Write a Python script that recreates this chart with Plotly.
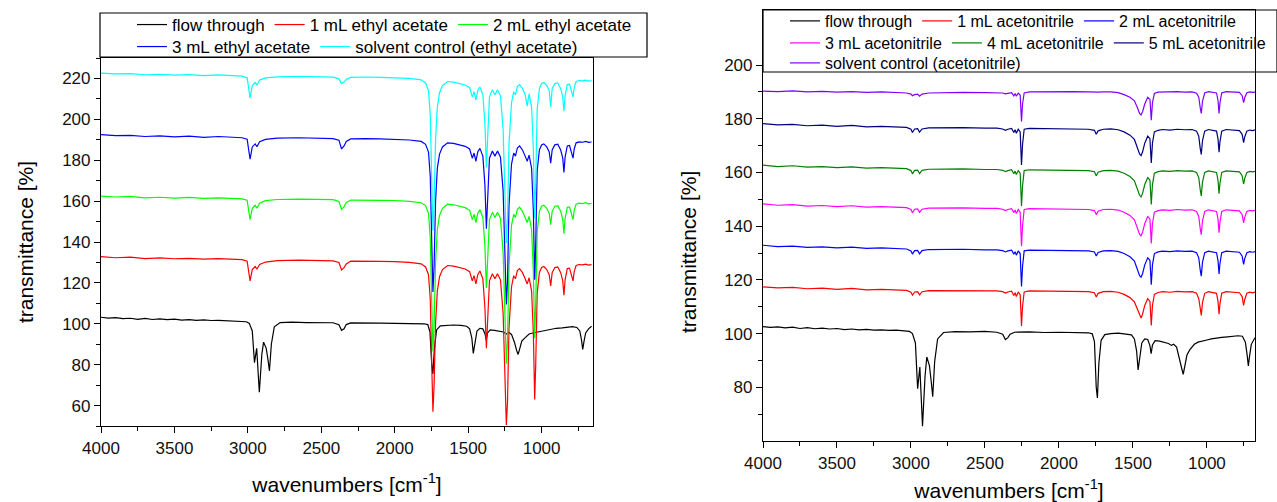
import plotly.graph_objects as go

W, H = 1277, 502

# ---------------- left panel: ethyl acetate elution ----------------
FT_WN = [4000, 3950, 3900, 3850, 3800, 3750, 3700, 3650, 3600, 3550, 3500, 3450, 3400, 3350, 3300, 3250,
         3200, 3150, 3100, 3050, 3010, 2990, 2970, 2955, 2940, 2922, 2905, 2893, 2875, 2862, 2853, 2840,
         2820, 2780, 2700, 2600, 2500, 2420, 2380, 2362, 2345, 2330, 2300, 2200, 2100, 2000, 1900, 1800,
         1775, 1760, 1748, 1740, 1730, 1715, 1690, 1650, 1600, 1550, 1510, 1490, 1475, 1465, 1455, 1440,
         1420, 1400, 1385, 1377, 1368, 1350, 1320, 1290, 1260, 1240, 1225, 1205, 1185, 1170, 1160, 1150,
         1135, 1115, 1100, 1085, 1060, 1030, 1000, 970, 940, 900, 860, 820, 790, 760, 740, 728, 720, 712,
         700, 680, 660]

FT_LEFT = [103.2, 102.8, 103.0, 102.5, 102.7, 102.2, 102.6, 102.1, 102.4, 102.0, 102.3, 101.8, 102.0, 101.7,
           101.9, 101.6, 101.7, 101.5, 101.6, 101.3, 101.0, 100.2, 96.5, 81.0, 88.0, 66.5, 85.0, 91.0, 88.0,
           82.0, 77.0, 90.0, 98.5, 100.6, 100.8, 100.6, 100.7, 100.5, 99.5, 96.8, 97.5, 99.6, 100.4, 100.5,
           100.3, 100.2, 100.1, 100.0, 99.6, 96.0, 80.0, 75.5, 88.0, 97.0, 99.0, 99.3, 99.4, 99.2, 98.8, 97.5,
           93.0, 85.5, 90.0, 96.5, 97.8, 97.5, 95.0, 92.0, 95.5, 97.0, 96.8, 96.5, 96.0, 95.0, 95.8, 94.8,
           91.0, 87.0, 85.0, 87.5, 91.5, 93.0, 94.0, 95.0, 95.5, 96.0, 96.5, 97.0, 97.5, 97.8, 98.0, 98.5,
           98.6, 98.2, 96.5, 92.0, 87.5, 91.0, 95.5, 97.5, 98.8]

EA_WN = [4000, 3900, 3800, 3700, 3600, 3500, 3400, 3300, 3200, 3100, 3040, 3005, 2985, 2970, 2950, 2938,
         2920, 2880, 2800, 2650, 2500, 2420, 2380, 2362, 2345, 2330, 2300, 2200, 2100, 2000, 1900, 1820,
         1790, 1770, 1758, 1748, 1740, 1732, 1722, 1710, 1695, 1675, 1640, 1600, 1560, 1520, 1490, 1472,
         1460, 1447, 1435, 1420, 1400, 1386, 1376, 1368, 1355, 1335, 1318, 1300, 1280, 1262, 1250, 1240,
         1232, 1222, 1205, 1190, 1178, 1165, 1150, 1130, 1112, 1098, 1085, 1068, 1056, 1047, 1040, 1030,
         1015, 1000, 985, 965, 948, 938, 928, 910, 890, 870, 856, 848, 840, 825, 810, 795, 786, 778, 765,
         745, 720, 700, 680, 660]

EA_1ML = [132.8, 132.3, 132.6, 131.9, 132.2, 131.8, 132.0, 131.6, 131.9, 131.5, 131.4, 130.6, 121.0, 126.5,
          128.0, 126.8, 129.0, 130.2, 130.9, 131.1, 131.0, 130.8, 130.0, 126.3, 127.5, 129.3, 130.6, 130.7,
          130.5, 130.4, 130.0, 129.3, 127.8, 124.0, 112.0, 80.0, 57.0, 70.0, 100.0, 116.0, 123.0, 126.5,
          128.5, 128.2, 127.6, 126.8, 125.5, 121.0, 123.5, 119.5, 124.0, 125.8, 122.0, 108.0, 88.0, 100.0,
          121.0, 124.5, 122.0, 124.5, 121.5, 105.0, 70.0, 50.5, 62.0, 98.0, 118.0, 123.5, 122.0, 126.0,
          127.0, 125.0, 122.0, 119.5, 122.5, 116.0, 95.0, 63.0, 80.0, 115.0, 125.0, 127.5, 128.0, 126.5,
          124.0, 118.5, 125.0, 127.5, 127.8, 125.0, 121.0, 114.0, 121.5, 127.0, 127.2, 124.0, 121.0, 125.5,
          128.5, 129.0, 128.8, 129.2, 128.7, 128.9]

EA_2ML = [162.4, 162.0, 162.3, 161.6, 161.9, 161.5, 161.8, 161.3, 161.6, 161.2, 161.1, 160.4, 151.0, 156.5,
          158.0, 156.5, 159.0, 160.2, 160.8, 161.0, 160.9, 160.7, 159.8, 156.0, 157.3, 159.2, 160.5, 160.6,
          160.4, 160.3, 159.9, 159.2, 157.8, 154.0, 142.0, 110.0, 86.5, 99.0, 130.0, 146.0, 153.0, 156.5,
          158.5, 158.2, 157.6, 156.8, 155.5, 151.0, 153.5, 149.5, 154.0, 155.8, 152.0, 138.0, 117.5, 130.0,
          151.0, 154.5, 152.0, 154.5, 151.5, 135.0, 100.0, 80.5, 92.0, 128.0, 148.0, 153.5, 152.0, 156.0,
          157.0, 155.0, 152.0, 149.5, 152.5, 146.0, 125.0, 93.0, 110.0, 145.0, 155.0, 157.5, 158.0, 156.5,
          154.0, 148.5, 155.0, 157.5, 157.8, 155.0, 151.0, 144.0, 151.5, 157.0, 157.2, 154.0, 151.0, 155.5,
          158.5, 159.0, 158.8, 159.2, 158.7, 158.9]

EA_3ML = [192.5, 192.0, 192.2, 191.6, 191.9, 191.4, 191.8, 191.2, 191.6, 191.1, 191.0, 190.3, 180.5, 186.5,
          188.0, 186.6, 189.0, 190.2, 190.8, 191.0, 190.8, 190.6, 189.8, 185.5, 187.0, 189.2, 190.4, 190.6,
          190.4, 190.3, 189.9, 189.2, 187.8, 184.0, 172.0, 140.0, 115.5, 128.0, 160.0, 176.0, 183.0, 186.5,
          188.5, 188.2, 187.6, 186.8, 185.5, 181.0, 183.5, 179.5, 184.0, 185.8, 182.0, 168.0, 146.5, 160.0,
          181.0, 184.5, 182.0, 184.5, 181.5, 165.0, 130.0, 109.5, 121.0, 158.0, 178.0, 183.5, 182.0, 186.0,
          187.0, 185.0, 182.0, 179.5, 182.5, 176.0, 155.0, 121.5, 139.0, 175.0, 185.0, 187.5, 188.0, 186.5,
          184.0, 178.5, 185.0, 187.5, 187.8, 185.0, 181.0, 174.0, 181.5, 187.0, 187.2, 184.0, 181.0, 185.5,
          188.5, 189.0, 188.8, 189.2, 188.7, 188.9]

EA_SOLVENT = [222.6, 222.2, 222.4, 221.8, 222.0, 221.6, 221.9, 221.4, 221.7, 221.3, 221.1, 220.3, 210.5, 216.5,
              218.0, 216.8, 219.2, 220.3, 220.8, 221.0, 220.8, 220.6, 219.8, 217.5, 218.2, 219.5, 220.5, 220.7,
              220.5, 220.4, 220.0, 219.3, 217.8, 214.0, 202.0, 170.0, 145.5, 158.0, 190.0, 206.0, 213.0, 216.5,
              218.5, 218.2, 217.6, 216.8, 215.5, 211.0, 213.5, 209.5, 214.0, 215.8, 212.0, 198.0, 176.5, 190.0,
              211.0, 214.5, 212.0, 214.5, 211.5, 195.0, 160.0, 139.5, 151.0, 188.0, 208.0, 213.5, 212.0, 216.0,
              217.0, 215.0, 212.0, 206.5, 212.5, 206.0, 185.0, 151.5, 169.0, 205.0, 215.0, 217.5, 218.0, 216.5,
              214.0, 206.0, 215.0, 217.5, 217.8, 215.0, 211.0, 204.0, 211.5, 217.0, 217.2, 214.0, 211.0, 215.5,
              218.5, 219.0, 218.8, 219.2, 218.7, 218.9]

# ---------------- right panel: acetonitrile elution ----------------
FT_RIGHT = [102.6, 102.3, 102.5, 102.1, 102.4, 101.9, 102.2, 101.8, 102.0, 101.7, 101.9, 101.5, 101.7, 101.4,
            101.6, 101.3, 101.4, 101.2, 101.3, 101.0, 100.8, 100.0, 96.5, 79.5, 87.5, 65.5, 84.0, 91.3, 88.0,
            81.5, 76.5, 89.5, 98.0, 100.4, 100.7, 100.6, 100.8, 100.5, 99.8, 97.8, 98.5, 99.8, 100.5, 100.6,
            100.4, 100.5, 100.4, 100.3, 99.9, 97.0, 80.0, 76.0, 89.0, 97.5, 99.6, 100.0, 100.2, 99.9, 99.5,
            98.0, 93.5, 86.5, 90.5, 96.5, 98.0, 97.8, 95.5, 92.5, 95.8, 97.4, 97.2, 96.8, 96.3, 95.6, 96.0,
            95.0, 91.0, 87.0, 84.8, 87.5, 92.0, 94.0, 95.0, 96.0, 96.8, 97.3, 97.6, 98.0, 98.3, 98.6, 98.8,
            99.0, 99.2, 99.0, 96.8, 92.0, 88.0, 91.5, 96.0, 98.0, 99.5]

AN_WN = [4000, 3900, 3800, 3700, 3600, 3500, 3400, 3300, 3200, 3100, 3030, 3000, 2990, 2975, 2955, 2942,
         2925, 2880, 2800, 2650, 2500, 2420, 2380, 2362, 2345, 2320, 2305, 2296, 2288, 2275, 2262, 2253,
         2246, 2235, 2200, 2100, 2000, 1900, 1800, 1760, 1748, 1735, 1700, 1650, 1600, 1560, 1520, 1490,
         1470, 1455, 1445, 1435, 1420, 1400, 1385, 1376, 1368, 1355, 1330, 1300, 1250, 1200, 1150, 1100,
         1070, 1055, 1045, 1038, 1030, 1015, 990, 960, 935, 925, 918, 912, 900, 870, 820, 780, 762, 752,
         744, 730, 710, 690, 670]

AN_1ML = [117.4, 117.0, 117.2, 116.7, 116.9, 116.5, 116.8, 116.3, 116.5, 116.2, 116.1, 115.4, 114.3, 115.5,
          115.6, 114.4, 115.6, 116.0, 116.0, 116.1, 115.9, 115.9, 115.6, 115.1, 115.5, 115.8, 114.2, 115.2,
          113.8, 115.5, 114.5, 102.8, 110.0, 115.5, 115.9, 115.8, 115.7, 115.6, 115.6, 115.2, 113.6, 115.0,
          115.6, 115.7, 115.4, 114.6, 113.4, 111.8, 108.8, 106.5, 105.8, 107.2, 110.5, 113.0, 112.0, 103.0,
          110.5, 114.6, 115.3, 115.6, 115.4, 115.7, 115.5, 115.6, 115.0, 113.0, 108.5, 106.8, 111.5, 115.0,
          115.6, 115.4, 115.0, 112.0, 107.2, 111.0, 115.0, 115.6, 115.5, 115.2, 113.8, 110.5, 112.8, 115.0,
          115.4, 115.2, 115.5]

AN_2ML = [132.9, 132.4, 132.6, 132.1, 132.3, 131.9, 132.2, 131.7, 131.9, 131.6, 131.5, 130.8, 129.6, 130.9,
          131.0, 129.7, 130.9, 131.3, 131.4, 131.4, 131.2, 131.2, 130.9, 130.4, 130.8, 131.1, 129.6, 130.5,
          129.2, 130.8, 129.8, 117.5, 125.0, 130.8, 131.1, 131.0, 130.9, 130.8, 130.8, 130.4, 128.9, 130.2,
          130.8, 130.9, 130.6, 129.8, 128.6, 127.0, 124.0, 121.6, 121.0, 122.3, 125.6, 128.2, 127.3, 118.2,
          125.6, 129.8, 130.4, 130.7, 130.5, 130.8, 130.6, 130.7, 130.1, 128.2, 123.6, 121.4, 126.5, 130.1,
          130.7, 130.5, 130.1, 127.2, 122.2, 126.0, 130.1, 130.7, 130.6, 130.3, 128.9, 125.8, 128.0, 130.1,
          130.5, 130.3, 130.6]

AN_3ML = [148.3, 147.8, 148.0, 147.5, 147.7, 147.3, 147.6, 147.1, 147.3, 147.0, 146.9, 146.2, 145.0, 146.3,
          146.4, 145.1, 146.3, 146.7, 146.8, 146.8, 146.6, 146.6, 146.3, 145.8, 146.2, 146.5, 145.0, 146.0,
          144.7, 146.2, 145.2, 132.5, 140.0, 146.2, 146.5, 146.4, 146.3, 146.2, 146.2, 145.8, 144.3, 145.6,
          146.2, 146.3, 146.0, 145.2, 144.0, 142.4, 139.4, 137.0, 136.4, 137.7, 141.0, 143.6, 142.7, 133.6,
          141.0, 145.2, 145.8, 146.1, 145.9, 146.2, 146.0, 146.1, 145.5, 143.6, 139.0, 136.8, 141.9, 145.5,
          146.1, 145.9, 145.5, 142.6, 137.6, 141.4, 145.5, 146.1, 146.0, 145.7, 144.3, 141.2, 143.4, 145.5,
          145.9, 145.7, 146.0]

AN_4ML = [162.7, 162.2, 162.5, 162.0, 162.2, 161.8, 162.1, 161.6, 161.8, 161.5, 161.4, 160.7, 159.5, 160.8,
          160.9, 159.6, 160.8, 161.2, 161.3, 161.3, 161.1, 161.1, 160.8, 160.3, 160.7, 161.0, 159.5, 160.5,
          159.2, 160.7, 159.7, 147.5, 155.0, 160.7, 161.0, 160.9, 160.8, 160.7, 160.7, 160.3, 158.8, 160.1,
          160.7, 160.8, 160.5, 159.7, 158.5, 156.9, 153.9, 151.5, 150.9, 152.2, 155.5, 158.1, 157.2, 148.1,
          155.5, 159.7, 160.3, 160.6, 160.4, 160.7, 160.5, 160.6, 160.0, 158.1, 153.5, 151.3, 156.4, 160.0,
          160.6, 160.4, 160.0, 157.1, 152.1, 155.9, 160.0, 160.6, 160.5, 160.2, 158.8, 155.7, 157.9, 160.0,
          160.4, 160.2, 160.5]

AN_5ML = [178.2, 177.7, 177.9, 177.4, 177.6, 177.2, 177.5, 177.0, 177.2, 176.9, 176.8, 176.1, 174.9, 176.2,
          176.3, 175.0, 176.2, 176.6, 176.7, 176.7, 176.5, 176.5, 176.2, 175.7, 176.1, 176.4, 174.9, 175.9,
          174.6, 176.1, 175.1, 162.8, 170.4, 176.1, 176.4, 176.3, 176.2, 176.1, 176.1, 175.7, 174.2, 175.5,
          176.1, 176.2, 175.9, 175.1, 173.9, 172.3, 169.3, 166.9, 166.3, 167.6, 170.9, 173.5, 172.6, 163.5,
          170.9, 175.1, 175.7, 176.0, 175.8, 176.1, 175.9, 176.0, 175.4, 173.5, 168.9, 166.7, 171.8, 175.4,
          176.0, 175.8, 175.4, 172.5, 167.5, 171.3, 175.4, 176.0, 175.9, 175.6, 174.2, 171.1, 173.3, 175.4,
          175.8, 175.6, 175.9]

AN_SOLVENT = [190.3, 190.1, 190.4, 190.0, 190.2, 189.9, 190.1, 189.8, 190.0, 189.8, 189.6, 189.2, 188.6, 189.0,
              189.2, 188.4, 189.2, 189.6, 189.7, 189.8, 189.7, 189.8, 189.6, 189.3, 189.5, 189.7, 188.5, 189.4,
              188.4, 189.5, 188.8, 179.0, 185.5, 189.6, 190.0, 190.1, 190.2, 190.1, 190.0, 189.9, 189.8, 189.9,
              190.0, 190.0, 189.7, 189.0, 188.0, 186.7, 184.2, 182.0, 181.4, 182.6, 185.5, 188.0, 187.2, 179.5,
              186.0, 189.4, 189.9, 190.0, 189.9, 190.1, 189.9, 190.0, 189.5, 188.0, 184.0, 182.0, 186.5, 189.6,
              190.1, 189.9, 189.6, 186.8, 182.0, 185.8, 189.6, 190.1, 190.0, 189.8, 188.6, 186.0, 187.9, 189.7,
              190.0, 189.8, 190.0]

X_TICKS = [4000, 3500, 3000, 2500, 2000, 1500, 1000]
L_Y_TICKS = [60, 80, 100, 120, 140, 160, 180, 200, 220]
R_Y_TICKS = [80, 100, 120, 140, 160, 180, 200]

# (x values, y values, name, colour, subplot, legend)
series = [
    (FT_WN, FT_LEFT, "flow through", "#000000", "l", "legend"),
    (EA_WN, EA_1ML, "1 mL ethyl acetate", "#ff0000", "l", "legend"),
    (EA_WN, EA_2ML, "2 mL ethyl acetate", "#00ff00", "l", "legend"),
    (EA_WN, EA_3ML, "3 mL ethyl acetate", "#0000ff", "l", "legend2"),
    (EA_WN, EA_SOLVENT, "solvent control (ethyl acetate)", "#00ffff", "l", "legend2"),
    (FT_WN, FT_RIGHT, "flow through", "#000000", "r", "legend3"),
    (AN_WN, AN_1ML, "1 mL acetonitrile", "#ff0000", "r", "legend3"),
    (AN_WN, AN_2ML, "2 mL acetonitrile", "#0000ff", "r", "legend3"),
    (AN_WN, AN_3ML, "3 mL acetonitrile", "#ff00ff", "r", "legend4"),
    (AN_WN, AN_4ML, "4 mL acetonitrile", "#008000", "r", "legend4"),
    (AN_WN, AN_5ML, "5 mL acetonitrile", "#000080", "r", "legend4"),
    (AN_WN, AN_SOLVENT, "solvent control (acetonitrile)", "#8000ff", "r", "legend5"),
]

fig = go.Figure()
for xs, ys, name, col, side, leg in series:
    assert len(xs) == len(ys), name
    fig.add_trace(go.Scatter(
        x=xs, y=ys, name=name, mode="lines",
        line=dict(color=col, width=1.2),
        xaxis="x" if side == "l" else "x2",
        yaxis="y" if side == "l" else "y2",
        legend=leg,
    ))

FONT = "Liberation Sans, Arial, sans-serif"
axis_common = dict(
    showline=True, linecolor="black", linewidth=1.2, mirror=True,
    ticks="outside", ticklen=6, tickwidth=1.2, tickcolor="black",
    showgrid=False, zeroline=False, automargin=False,
    tickfont=dict(family=FONT, size=17, color="#111"),
)
xtitle = dict(text="wavenumbers [cm<sup>-1</sup>]", font=dict(family=FONT, size=21, color="black"), standoff=20)

fig.update_layout(
    width=W, height=H,
    autosize=False,
    margin=dict(l=0, r=0, t=0, b=0),
    paper_bgcolor="white", plot_bgcolor="white",
    font=dict(family=FONT, size=17, color="black"),
    xaxis=dict(axis_common, domain=[101 / W, 593 / W], anchor="y", range=[4000, 650],
               tickvals=X_TICKS, minor=dict(dtick=250, ticklen=4, ticks="outside", tickcolor="black"),
               title=xtitle),
    yaxis=dict(axis_common, domain=[1 - 426 / H, 1 - 58 / H], anchor="x", range=[50, 230],
               tickvals=L_Y_TICKS, minor=dict(dtick=10, ticklen=4, ticks="outside", tickcolor="black"),
               title=dict(text="transmittance [%]", font=dict(family=FONT, size=21, color="black"),
                          standoff=22)),
    xaxis2=dict(axis_common, domain=[763 / W, 1255 / W], anchor="y2", range=[4000, 675],
                tickvals=X_TICKS, minor=dict(dtick=250, ticklen=4, ticks="outside", tickcolor="black"),
                title=xtitle),
    yaxis2=dict(axis_common, domain=[1 - 441 / H, 1 - 10 / H], anchor="x2", range=[60, 220.5],
                tickvals=R_Y_TICKS,
                minor=dict(tickvals=[70, 90, 110, 130, 150, 170, 190], ticklen=4, ticks="outside",
                           tickcolor="black")),
    showlegend=True,
)

# right y title sits centred on the visible part of the axis (below the legend box)
fig.add_annotation(text="transmittance [%]", xref="paper", yref="paper", x=688 / W, y=1 - 252 / H,
                   textangle=-90, showarrow=False, xanchor="center", yanchor="middle",
                   font=dict(family=FONT, size=21, color="black"))

leg_common = dict(orientation="h", xanchor="left", yanchor="middle", bgcolor="rgba(0,0,0,0)",
                  borderwidth=0, font=dict(family=FONT, size=17, color="black"), itemclick=False,
                  itemdoubleclick=False)
right_leg = dict(leg_common, font=dict(family=FONT, size=16, color="black"))
fig.update_layout(
    legend=dict(leg_common, x=132 / W, y=1 - 25 / H),
    legend2=dict(leg_common, x=132 / W, y=1 - 47 / H),
    legend3=dict(right_leg, x=785 / W, y=1 - 21 / H),
    legend4=dict(right_leg, x=785 / W, y=1 - 43 / H),
    legend5=dict(right_leg, x=785 / W, y=1 - 63 / H),
)

# legend frames (the right one runs to the page edge, as in the original)
fig.add_shape(type="rect", xref="paper", yref="paper", x0=100 / W, x1=647 / W, y0=1 - 57 / H, y1=1 - 13 / H,
              line=dict(color="black", width=1.2), fillcolor="rgba(0,0,0,0)", layer="above")
fig.add_shape(type="rect", xref="paper", yref="paper", x0=763 / W, x1=1.0, y0=1 - 72 / H, y1=1 - 10 / H,
              line=dict(color="black", width=1.2), fillcolor="rgba(0,0,0,0)", layer="above")

# the page body has a default 8px margin; drop it so the figure sits at the window's corner
fig.write_html("out.html", config={"displayModeBar": False},
               post_script="document.body.style.margin='0';")
